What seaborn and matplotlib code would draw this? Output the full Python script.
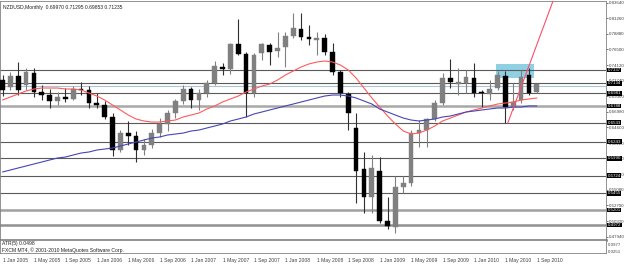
import numpy as np
import pandas as pd
import matplotlib
matplotlib.use("Agg")
import matplotlib.pyplot as plt
import matplotlib.transforms as mtransforms
from matplotlib.patches import Rectangle
import seaborn as sns

# NZDUSD monthly, Jan 2005 - Sep 2010
months = pd.date_range("2005-01-01", "2010-09-01", freq="MS")

opens = [0.7185, 0.7078, 0.7245, 0.7108, 0.7291, 0.7001, 0.6960, 0.6860, 0.6920, 0.6900,
         0.7050, 0.7030, 0.6830, 0.6810, 0.6620, 0.6120, 0.6370, 0.6330, 0.6110, 0.6200,
         0.6380, 0.6520, 0.6680, 0.6860, 0.7040, 0.6880, 0.6986, 0.7139, 0.7383, 0.7352,
         0.7734, 0.7581, 0.6986, 0.7596, 0.7718, 0.7627, 0.7688, 0.7856, 0.7963, 0.7841,
         0.7795, 0.7825, 0.7612, 0.7307, 0.6971, 0.6452, 0.5826, 0.5399, 0.5796, 0.5033,
         0.4941, 0.5552, 0.5613, 0.6375, 0.6421, 0.6589, 0.6833, 0.7215, 0.7123, 0.7139,
         0.7215, 0.7001, 0.6971, 0.7062, 0.7245, 0.6772, 0.6879, 0.7261, 0.69970]
highs = [0.7261, 0.7307, 0.7459, 0.7368, 0.7368, 0.7110, 0.7050, 0.7000, 0.7060, 0.7100,
         0.7160, 0.7100, 0.6990, 0.6860, 0.6680, 0.6420, 0.6560, 0.6400, 0.6290, 0.6440,
         0.6600, 0.6720, 0.6900, 0.7110, 0.7080, 0.7050, 0.7180, 0.7474, 0.7444, 0.7745,
         0.8115, 0.7612, 0.7596, 0.7745, 0.7749, 0.7917, 0.7917, 0.8207, 0.8207, 0.8024,
         0.7917, 0.7886, 0.7749, 0.7337, 0.7001, 0.6681, 0.6086, 0.6040, 0.6009, 0.5399,
         0.5720, 0.5720, 0.6421, 0.6574, 0.6604, 0.6879, 0.7291, 0.7505, 0.7368, 0.7337,
         0.7444, 0.7032, 0.7184, 0.7322, 0.7322, 0.7139, 0.7337, 0.7368, 0.71295]
lows = [0.6940, 0.7032, 0.6955, 0.7032, 0.6925, 0.6880, 0.6760, 0.6800, 0.6850, 0.6880,
        0.6950, 0.6760, 0.6760, 0.6590, 0.6030, 0.6080, 0.6190, 0.5930, 0.6040, 0.6150,
        0.6310, 0.6400, 0.6600, 0.6820, 0.6750, 0.6730, 0.6930, 0.7108, 0.7261, 0.7276,
        0.7566, 0.6620, 0.6925, 0.7490, 0.7413, 0.7535, 0.7383, 0.7825, 0.7795, 0.7718,
        0.7566, 0.7566, 0.7261, 0.6925, 0.6421, 0.5307, 0.5155, 0.5155, 0.5002, 0.4911,
        0.4850, 0.5460, 0.5567, 0.6162, 0.6162, 0.6559, 0.6803, 0.7062, 0.6955, 0.6986,
        0.6925, 0.6772, 0.6879, 0.7032, 0.6528, 0.6727, 0.6833, 0.6955, 0.69853]
closes = [0.7032, 0.7245, 0.7032, 0.7307, 0.7001, 0.6960, 0.6860, 0.6920, 0.6900, 0.7050,
          0.7030, 0.6830, 0.6810, 0.6620, 0.6120, 0.6370, 0.6330, 0.6110, 0.6200, 0.6380,
          0.6520, 0.6680, 0.6860, 0.7040, 0.6880, 0.6980, 0.7139, 0.7398, 0.7352, 0.7734,
          0.7581, 0.6986, 0.7566, 0.7734, 0.7612, 0.7673, 0.7856, 0.7978, 0.7841, 0.7810,
          0.7825, 0.7612, 0.7307, 0.6986, 0.6681, 0.5796, 0.5399, 0.5842, 0.5033, 0.4957,
          0.5552, 0.5613, 0.6375, 0.6421, 0.6589, 0.6833, 0.7215, 0.7154, 0.7154, 0.7230,
          0.6986, 0.6986, 0.7047, 0.7261, 0.6772, 0.6849, 0.7230, 0.6986, 0.71235]

# moving averages
ma_red = [0.6879, 0.6925, 0.6971, 0.7017, 0.7047, 0.7062, 0.7062, 0.7062, 0.7047, 0.7047,
          0.7032, 0.6986, 0.6940, 0.6879, 0.6803, 0.6727, 0.6650, 0.6589, 0.6559, 0.6543,
          0.6543, 0.6559, 0.6574, 0.6620, 0.6650, 0.6681, 0.6742, 0.6788, 0.6849, 0.6895,
          0.6940, 0.7001, 0.7047, 0.7093, 0.7123, 0.7184, 0.7261, 0.7322, 0.7383, 0.7429,
          0.7459, 0.7474, 0.7459, 0.7413, 0.7337, 0.7215, 0.7062, 0.6910, 0.6772, 0.6635,
          0.6513, 0.6406, 0.6360, 0.6375, 0.6421, 0.6482, 0.6559, 0.6604, 0.6650, 0.6696,
          0.6727, 0.6757, 0.6788, 0.6818, 0.6833, 0.6849, 0.6879, 0.6895, 0.6910]
ma_blue = [0.5781, 0.5811, 0.5842, 0.5872, 0.5903, 0.5933, 0.5964, 0.5994, 0.6009, 0.6040,
           0.6070, 0.6086, 0.6116, 0.6131, 0.6147, 0.6177, 0.6208, 0.6238, 0.6269, 0.6299,
           0.6315, 0.6345, 0.6360, 0.6375, 0.6406, 0.6421, 0.6452, 0.6482, 0.6513, 0.6559,
           0.6589, 0.6620, 0.6666, 0.6696, 0.6727, 0.6757, 0.6788, 0.6818, 0.6849, 0.6879,
           0.6910, 0.6940, 0.6955, 0.6955, 0.6940, 0.6910, 0.6864, 0.6818, 0.6742, 0.6696,
           0.6650, 0.6604, 0.6574, 0.6559, 0.6574, 0.6589, 0.6620, 0.6635, 0.6666, 0.6696,
           0.6711, 0.6727, 0.6742, 0.6757, 0.6757, 0.6772, 0.6772, 0.6788, 0.6788]

# horizontal levels drawn on the chart
levels = [0.7337, 0.7134, 0.6981, 0.6788, 0.6533, 0.6243, 0.5990, 0.5724, 0.5455, 0.5201, 0.4972]
light_level = 0.7098
price_ticks = [0.83640, 0.81260, 0.78880, 0.76500, 0.74120, 0.71740, 0.69360, 0.66980,
               0.64600, 0.62220, 0.59840, 0.57460, 0.55080, 0.52700, 0.50320, 0.47940]
date_labels = ["1 Jan 2005", "1 May 2005", "1 Sep 2005", "1 Jan 2006", "1 May 2006",
               "1 Sep 2006", "1 Jan 2007", "1 May 2007", "1 Sep 2007", "1 Jan 2008",
               "1 May 2008", "1 Sep 2008", "1 Jan 2009", "1 May 2009", "1 Sep 2009",
               "1 Jan 2010", "1 May 2010", "1 Sep 2010"]
atr_ticks = [0.0977, 0.0251]

# trend line and rectangle objects (bar index, price)
trend_x = [64.3, 70.2]
trend_y = [0.6528, 0.8436]
box_x = [62.8, 67.7]
box_y = [0.7213, 0.7428]

df = pd.DataFrame({"idx": np.arange(len(months)), "open": opens, "high": highs,
                   "low": lows, "close": closes, "red": ma_red, "blue": ma_blue})

sns.set_style("white")
plt.rcParams["font.family"] = ["Liberation Sans", "DejaVu Sans"]
fs = 3.6
fs_axis = 3.2

fig = plt.figure(figsize=(6.25, 2.64), dpi=100)
fig.patch.set_facecolor("white")
ax = fig.add_axes([0, 24 / 264, 606 / 625, 239 / 264])
ax_atr = fig.add_axes([0, 11 / 264, 606 / 625, 13 / 264])

# rectangle behind everything
ax.add_patch(Rectangle((box_x[0], box_y[0]), box_x[1] - box_x[0], box_y[1] - box_y[0],
                       facecolor="#8fd0e3", edgecolor="none", zorder=1))

# horizontal lines
thick = {0.6788: "#a8a8a8", 0.5201: "#a0a0a0", 0.4972: "#909090"}
for lv in levels:
    if lv in thick:
        ax.axhline(lv, color=thick[lv], lw=1.8, zorder=2)
    else:
        ax.axhline(lv, color="#5a5a5a", lw=0.8, zorder=2)
ax.axhline(light_level, color="#a9c4d4", lw=0.8, zorder=2)

# candles
up = df["close"] >= df["open"]
body_lo = np.minimum(df["open"], df["close"])
body_h = np.maximum(np.abs(df["close"] - df["open"]), 0.0012)
ax.vlines(df["idx"][up], df["low"][up], df["high"][up], color="#808080", lw=0.8, zorder=3)
ax.vlines(df["idx"][~up], df["low"][~up], df["high"][~up], color="#303030", lw=0.8, zorder=3)
ax.bar(df["idx"][up], body_h[up], bottom=body_lo[up], width=0.6, color="#808080",
       edgecolor="#808080", lw=0.3, zorder=4)
ax.bar(df["idx"][~up], body_h[~up], bottom=body_lo[~up], width=0.6, color="black",
       edgecolor="black", lw=0.3, zorder=4)

# moving averages
sns.lineplot(data=df, x="idx", y="red", ax=ax, color="#ff5a5a", lw=0.8, zorder=5)
sns.lineplot(data=df, x="idx", y="blue", ax=ax, color="#4646b4", lw=0.8, zorder=5)
ax.plot(trend_x, trend_y, color="#ff4d6d", lw=0.8, zorder=6)

ax.set_xlim(-0.32, 76.8)
ax.set_ylim(0.4743, 0.8390)
ax.set_xlabel("")
ax.set_ylabel("")
ax.set_xticks([])
ax.yaxis.tick_right()
ax.set_yticks(price_ticks)
ax.set_yticklabels([f"{t:.5f}" for t in price_ticks])
ax.tick_params(axis="y", labelsize=fs_axis, length=1.5, pad=0.6, colors="#404040", width=0.5)
for s in ax.spines.values():
    s.set_color("#808080")
    s.set_linewidth(0.6)
ax.spines["bottom"].set_color("#707070")
ax.spines["bottom"].set_linewidth(1.8)

# level price tags on the axis
trans = mtransforms.blended_transform_factory(ax.transAxes, ax.transData)
for lv in levels:
    ax.text(1.003, lv, f"{lv:.4f}", transform=trans, ha="left", va="center", fontsize=fs_axis,
            color="white", clip_on=False, zorder=10,
            bbox=dict(facecolor="black", edgecolor="none", pad=0.3))

ax.text(0.005, 0.985, "NZDUSD,Monthly  0.69970 0.71295 0.69853 0.71235", transform=ax.transAxes,
        ha="left", va="top", fontsize=fs, color="#202020")

# ATR sub-window
ax_atr.set_xlim(-0.32, 76.8)
ax_atr.set_ylim(0.0156, 0.1346)
ax_atr.yaxis.tick_right()
ax_atr.set_yticks(atr_ticks)
ax_atr.set_yticklabels([f"{t:.4f}" for t in atr_ticks])
ax_atr.tick_params(axis="y", labelsize=fs_axis, length=0, pad=1.5, colors="#404040")
ax_atr.set_xticks(np.arange(0, len(months), 4))
ax_atr.set_xticklabels(date_labels, ha="left")
ax_atr.tick_params(axis="x", labelsize=fs, length=2, pad=1.5, colors="#404040", width=0.5)
for s in ax_atr.spines.values():
    s.set_color("#808080")
    s.set_linewidth(0.6)
ax_atr.text(0.004, 0.72, "ATR(5) 0.0498", transform=ax_atr.transAxes, ha="left", va="center",
            fontsize=fs, color="#202020")
ax_atr.text(0.004, 0.25, "FXCM MT4, \u00a9 2001-2010 MetaQuotes Software Corp.",
            transform=ax_atr.transAxes, ha="left", va="center", fontsize=fs, color="#202020")

fig.savefig("out.png", dpi=100, facecolor="white")
